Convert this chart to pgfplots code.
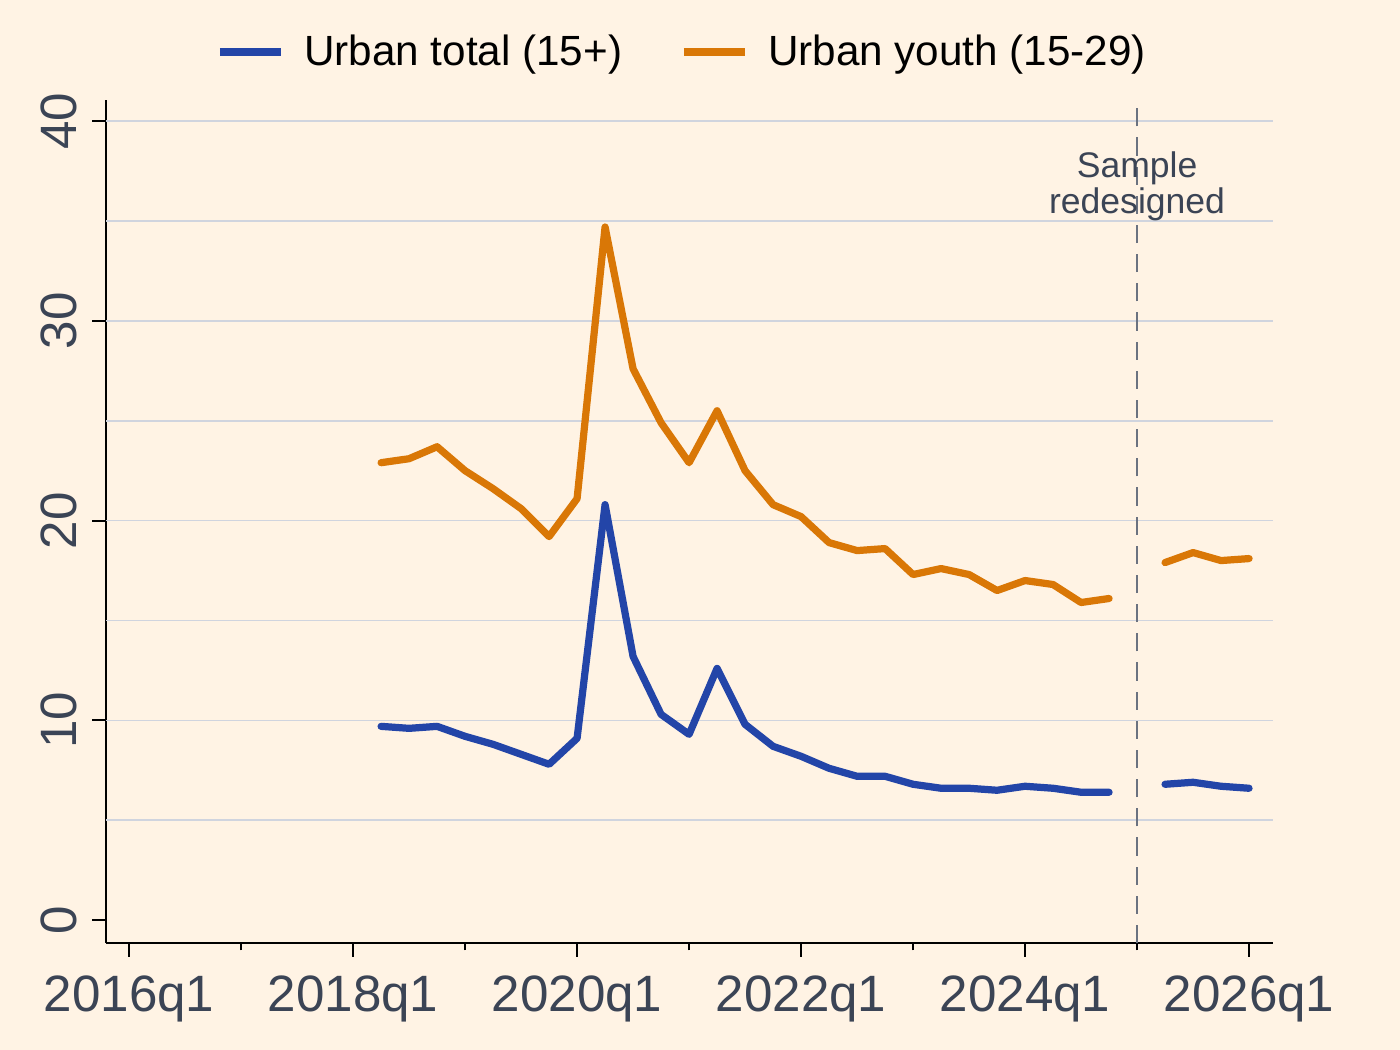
\documentclass[border=0pt]{standalone}
\usepackage{pgfplots}
\pgfplotsset{compat=1.18}
\usepackage{fontspec}
\setmainfont{Liberation Sans}
\definecolor{bgc}{RGB}{255,243,228}
\definecolor{blueL}{RGB}{35,69,168}
\definecolor{orangeL}{RGB}{217,119,6}
\definecolor{gridc}{RGB}{208,212,222}
\definecolor{tickc}{RGB}{59,68,85}
\definecolor{vlinec}{RGB}{107,114,128}
\begin{document}
\begin{tikzpicture}
\fill[bgc] (0,0) rectangle (504pt,378pt);
\begin{axis}[
  at={(38.2pt,38.5pt)}, anchor=south west,
  scale only axis, width=420.1pt, height=303.5pt,
  xmin=-0.821, xmax=40.857, ymin=-1.15, ymax=41.06,
  axis x line=bottom, axis y line=left,
  axis line style={black, line width=0.75pt, -},
  xtick={0,8,16,24,32,40},
  xticklabels={2016q1,2018q1,2020q1,2022q1,2024q1,2026q1},
  minor xtick={4,12,20,28,36},
  ytick={0,10,20,30,40},
  yticklabels={0,10,20,30,40},
  tick align=outside,
  major tick length=5pt, minor tick length=2.6pt,
  every tick/.style={black, line width=0.75pt},
  tick label style={font=\fontsize{18.4}{20}\selectfont, text=tickc},
  yticklabel style={rotate=90, anchor=south, yshift=1.8pt},
  xticklabel style={anchor=north, yshift=-3.2pt},
  /pgf/number format/assume math mode=true,
  unbounded coords=jump,
  legend columns=2,
  legend style={at={(rel axis cs:0.495,1.0565)}, anchor=center, draw=none, fill=none,
    font=\fontsize{15.2}{18}\selectfont, text=black,
    /tikz/every even column/.append style={column sep=18.8pt}},
  legend image code/.code={\draw[#1, line width=2.9pt, line cap=butt] (0pt,0pt) -- (22pt,0pt); \path (27pt,0pt);},
  clip=false,
]
\pgfplotsinvokeforeach{5,10,...,40}{
  \draw[gridc, line width=0.6pt] (axis cs:-0.821,#1) -- (axis cs:40.857,#1);
}
\addplot[forget plot, vlinec, line width=0.6pt, dash pattern=on 6.5pt off 4pt] coordinates {(36,-1.15) (36,41.06)};
\node[text=tickc, font=\fontsize{12.8}{13}\selectfont, align=center] at (axis cs:36,36.75) {Sample\\redesigned};
\addplot[blueL, line width=2.6pt, line join=round, line cap=round] table {
x y
9 9.7
10 9.6
11 9.7
12 9.2
13 8.8
14 8.3
15 7.8
16 9.1
17 20.8
18 13.2
19 10.3
20 9.3
21 12.6
22 9.8
23 8.7
24 8.2
25 7.6
26 7.2
27 7.2
28 6.8
29 6.6
30 6.6
31 6.5
32 6.7
33 6.6
34 6.4
35 6.4
36 nan
37 6.8
38 6.9
39 6.7
40 6.6
};
\addlegendentry{Urban total (15+)}
\addplot[orangeL, line width=2.6pt, line join=round, line cap=round] table {
x y
9 22.9
10 23.1
11 23.7
12 22.5
13 21.6
14 20.6
15 19.2
16 21.1
17 34.7
18 27.6
19 24.9
20 22.9
21 25.5
22 22.5
23 20.8
24 20.2
25 18.9
26 18.5
27 18.6
28 17.3
29 17.6
30 17.3
31 16.5
32 17.0
33 16.8
34 15.9
35 16.1
36 nan
37 17.9
38 18.4
39 18.0
40 18.1
};
\addlegendentry{Urban youth (15-29)}
\end{axis}
\pgfresetboundingbox
\useasboundingbox (0,0) rectangle (504pt,378pt);
\end{tikzpicture}
\end{document}
